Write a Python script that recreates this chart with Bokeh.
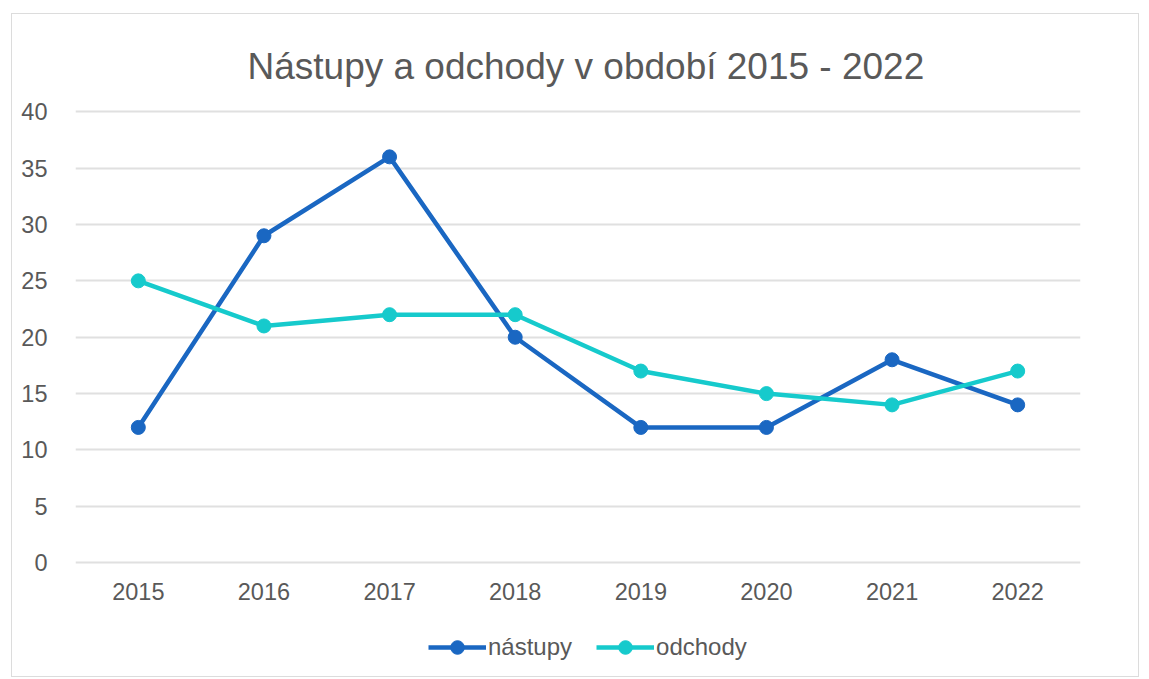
from bokeh.plotting import figure
from bokeh.models import Legend, LegendItem, FixedTicker
from bokeh.embed import file_html
from bokeh.resources import INLINE

years = ["2015", "2016", "2017", "2018", "2019", "2020", "2021", "2022"]
nastupy = [12, 29, 36, 20, 12, 12, 18, 14]
odchody = [25, 21, 22, 22, 17, 15, 14, 17]
y_ticks = [0, 5, 10, 15, 20, 25, 30, 35, 40]

TEXT = "#595959"
FONT = "Liberation Sans"
C1 = "#1a67c2"
C2 = "#16cacc"

p = figure(x_range=years, y_range=(-10.27, 40.2), width=1128, height=664,
           output_backend="svg", toolbar_location=None,
           title="Nástupy a odchody v období 2015 - 2022",
           min_border_left=63, min_border_right=60, min_border_top=95, min_border_bottom=0)
p.styles = {"border": "1px solid #dcdcdc", "margin-left": "11px", "margin-top": "13px"}
p.x_range.range_padding = 0
p.outline_line_color = None
p.background_fill_color = "white"
p.border_fill_color = "white"

p.title.text_font = FONT
p.title.text_font_size = "37px"
p.title.text_font_style = "normal"
p.title.text_color = TEXT
p.title.align = "left"
p.title.standoff = 46
p.title.offset = 172

p.yaxis.ticker = FixedTicker(ticks=y_ticks)
for ax in (p.xaxis[0], p.yaxis[0]):
    ax.axis_line_color = None
    ax.major_tick_line_color = None
    ax.minor_tick_line_color = None
    ax.major_label_text_font = FONT
    ax.major_label_text_font_size = "23.5px"
    ax.major_label_text_color = TEXT
p.xaxis.fixed_location = 0
p.yaxis.major_label_standoff = 22
p.xaxis.major_label_standoff = 14
p.xgrid.grid_line_color = None
p.ygrid.grid_line_color = "#e0e0e0"
p.ygrid.grid_line_width = 2

l1 = p.line(years, nastupy, line_color=C1, line_width=4.5)
s1 = p.scatter(years, nastupy, size=14, fill_color=C1, line_color=C1)
l2 = p.line(years, odchody, line_color=C2, line_width=4.5)
s2 = p.scatter(years, odchody, size=14, fill_color=C2, line_color=C2)

legend = Legend(items=[LegendItem(label="nástupy", renderers=[l1, s1]),
                       LegendItem(label="odchody", renderers=[l2, s2])],
                orientation="horizontal", location=(353, 14),
                label_text_font=FONT, label_text_font_size="24px",
                label_text_color=TEXT, glyph_width=58, glyph_height=34,
                spacing=24, label_standoff=2, border_line_color=None,
                background_fill_alpha=0, margin=0, padding=0)
p.add_layout(legend, "center")

open("out.html", "w").write(file_html(p, INLINE))
